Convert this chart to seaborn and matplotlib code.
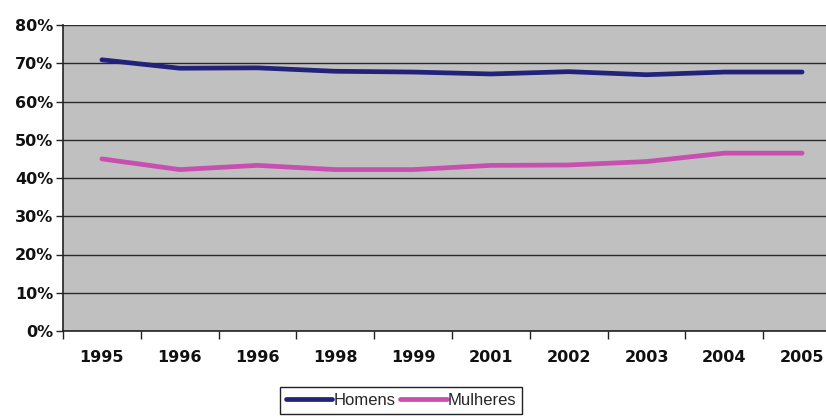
import matplotlib
matplotlib.use("Agg")
import matplotlib.pyplot as plt
import seaborn as sns
import pandas as pd
import numpy as np
from matplotlib.ticker import FixedLocator, PercentFormatter
from matplotlib.lines import Line2D

anos = ["1995", "1996", "1996", "1998", "1999", "2001", "2002", "2003", "2004", "2005"]
homens = [70.9, 68.7, 68.8, 67.9, 67.7, 67.2, 67.8, 67.0, 67.7, 67.7]
mulheres = [45.0, 42.2, 43.3, 42.2, 42.2, 43.3, 43.4, 44.3, 46.5, 46.5]

sns.set_theme(style="white")
plt.rcParams['font.family'] = ['DejaVu Sans']

pos = list(range(len(anos)))
df = pd.DataFrame({
    "pos": pos * 2,
    "valor": homens + mulheres,
    "serie": ["Homens"] * len(anos) + ["Mulheres"] * len(anos),
})

fig = plt.figure(figsize=(8.26, 4.17), dpi=100)
ax = fig.add_axes([63 / 826, (417 - 331) / 417, (841 - 63) / 826, (331 - 25) / 417])
ax.set_facecolor("#c0c0c0")

sns.lineplot(data=df, x="pos", y="valor", hue="serie",
             palette={"Homens": "#22227a", "Mulheres": "#c64fb0"},
             linewidth=3.4, ax=ax, legend=False, solid_capstyle="round")

ax.set_xlim(-0.5, len(anos) - 0.5)
ax.set_ylim(0, 80)
ax.yaxis.set_major_locator(FixedLocator(np.arange(0, 81, 10)))
ax.yaxis.set_major_formatter(PercentFormatter(decimals=0))
ax.grid(axis="y", color="#2a2a2a", linewidth=1.0)
ax.set_axisbelow(True)

ax.set_xticks(pos)
ax.set_xticklabels(anos)
ax.set_xticks(np.arange(-0.5, len(anos), 1), minor=True)
ax.tick_params(axis="x", which="major", length=0, pad=14, labelsize=11.5, colors="#111111")
ax.tick_params(axis="x", which="minor", length=6, width=1, color="#222222", direction="out", bottom=True)
ax.tick_params(axis="y", which="major", length=5, width=1, color="#222222", direction="out",
               left=True, labelsize=11.5, colors="#111111", pad=2)
for lab in ax.get_xticklabels() + ax.get_yticklabels():
    lab.set_fontweight("semibold")

for s in ["top", "right"]:
    ax.spines[s].set_visible(False)
for s in ["left", "bottom"]:
    ax.spines[s].set_color("#222222")
    ax.spines[s].set_linewidth(1.2)
ax.set_xlabel("")
ax.set_ylabel("")

handles = [Line2D([0], [0], color="#22227a", lw=3.4),
           Line2D([0], [0], color="#c64fb0", lw=3.4)]
leg = fig.legend(handles, ["Homens", "Mulheres"], loc="upper center",
                 bbox_to_anchor=(401 / 826, 1 - 387 / 417), ncol=2, frameon=True,
                 fancybox=False, edgecolor="#222222", framealpha=1,
                 prop={"family": "Liberation Sans", "size": 12},
                 handlelength=2.8, handletextpad=0.05, columnspacing=0.3,
                 borderpad=0.35, borderaxespad=0)
leg.get_frame().set_linewidth(1.0)

fig.savefig("out.png", dpi=100)
